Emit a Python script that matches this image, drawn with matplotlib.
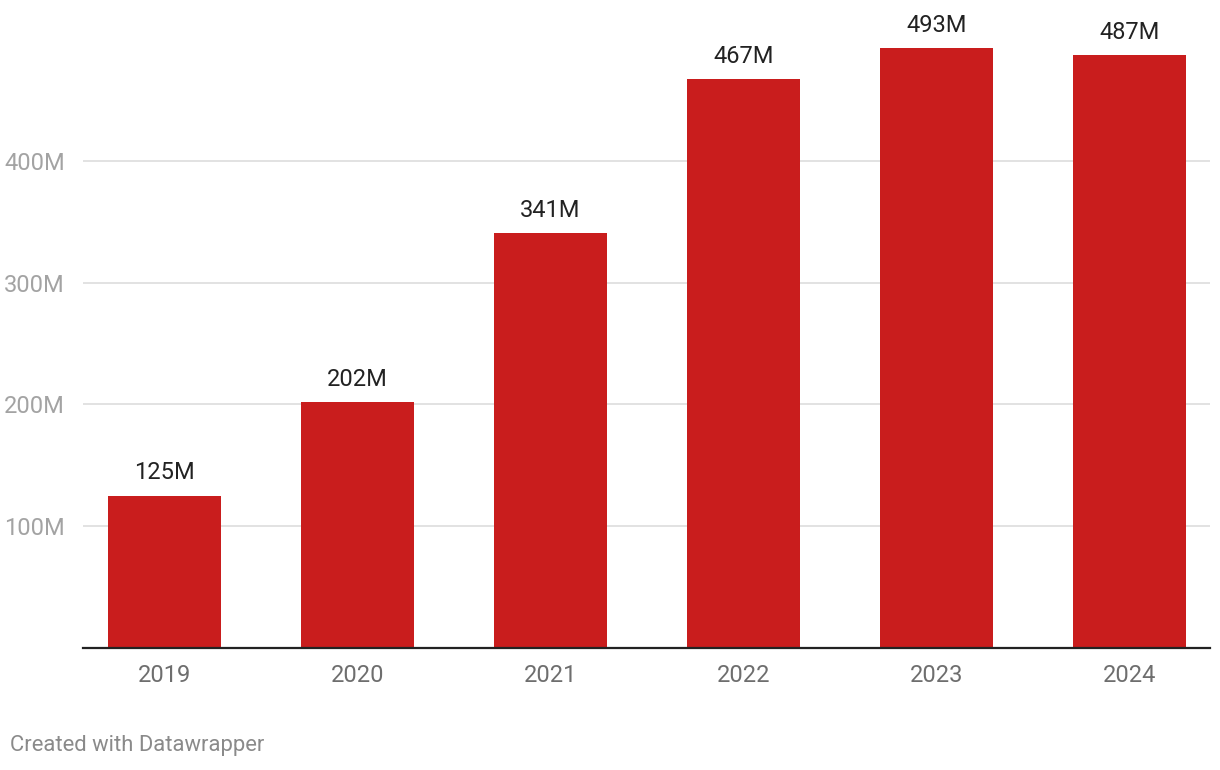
import matplotlib.pyplot as plt
from matplotlib.ticker import FuncFormatter

# ----------------------------
# DATA
# ----------------------------
years = ["2019", "2020", "2021", "2022", "2023", "2024"]
values = [125, 202, 341, 467, 493, 487]  # millions
y_ticks = [100, 200, 300, 400]

BAR_COLOR = "#c91d1d"

plt.rcParams["font.family"] = ["Roboto", "DejaVu Sans"]

fig = plt.figure(figsize=(12.2, 7.7), dpi=100)
ax = fig.add_axes([83 / 1220, 1 - 647.7 / 770, 1127 / 1220, 608.4 / 770])

x = list(range(len(years)))
ax.bar(x, values, width=0.585, color=BAR_COLOR, zorder=2)

# value labels above bars
for xi, v in zip(x, values):
    ax.annotate(f"{v}M", (xi, v), xytext=(0, 8), textcoords="offset points",
                ha="center", va="bottom", fontsize=17, color="#222222")

ax.set_xlim(-0.422, 5.417)
ax.set_ylim(0, 500)

ax.set_yticks(y_ticks)
ax.yaxis.set_major_formatter(FuncFormatter(lambda v, p: f"{int(v)}M"))
ax.grid(axis="y", color="#e2e2e2", linewidth=1.4, zorder=0)
ax.tick_params(axis="y", length=0, pad=13, labelsize=17, labelcolor="#a3a3a3")

ax.set_xticks(x)
ax.set_xticklabels(years)
ax.tick_params(axis="x", length=0, pad=11.5, labelsize=17, labelcolor="#6e6e6e")

for side in ["top", "right", "left"]:
    ax.spines[side].set_visible(False)
ax.spines["bottom"].set_color("#222222")
ax.spines["bottom"].set_linewidth(1.6)
ax.spines["bottom"].set_zorder(3)

fig.text(10 / 1220, 1 - 746 / 770, "Created with Datawrapper", fontsize=15.8,
         color="#8a8a8a", ha="left", va="center")

fig.savefig("out.png", dpi=100)
